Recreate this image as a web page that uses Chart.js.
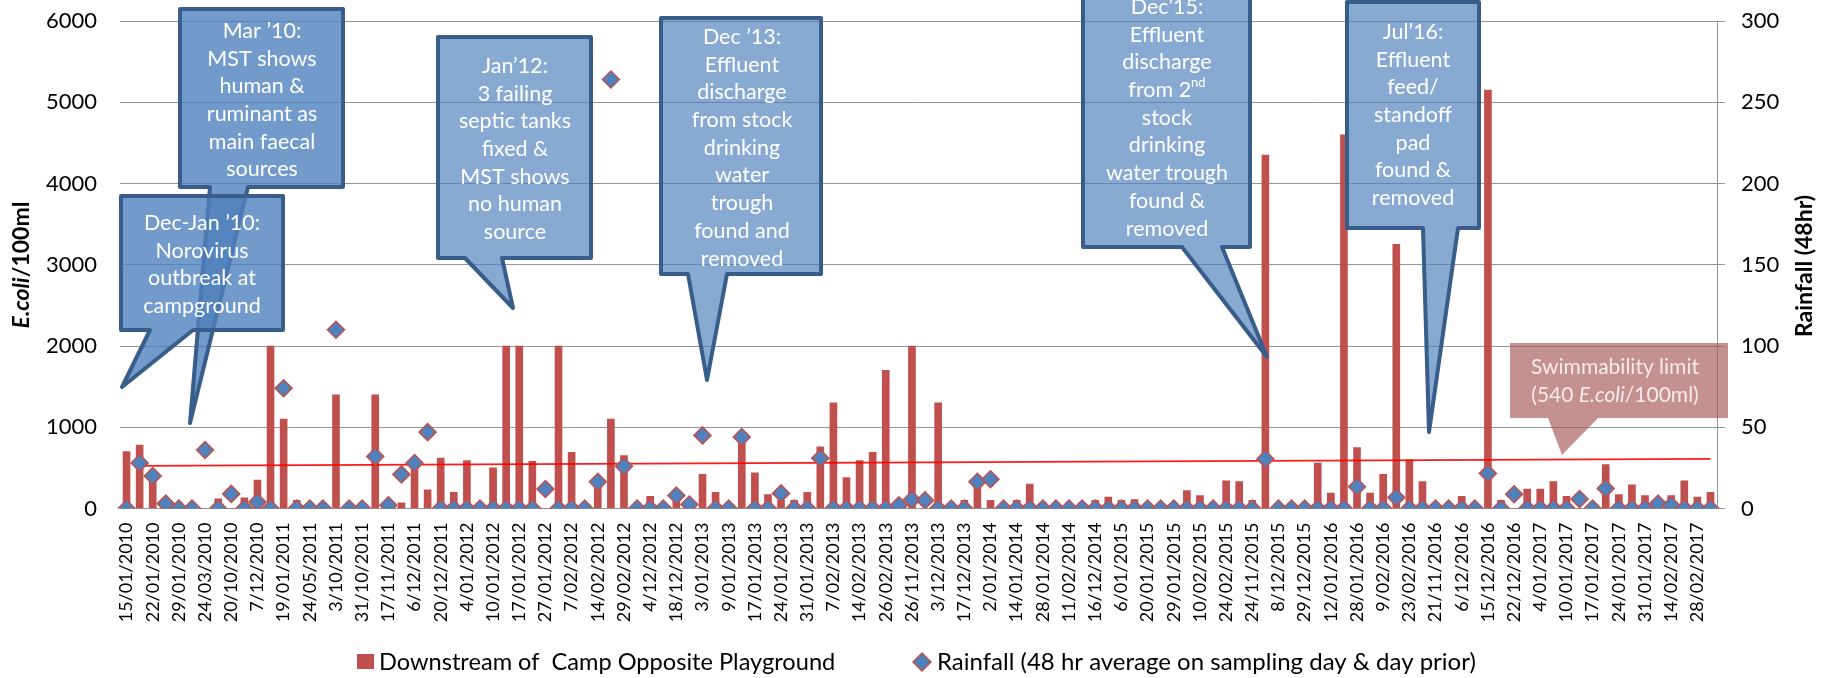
<!DOCTYPE html>
<html>
<head>
<meta charset="utf-8">
<script src="https://cdn.jsdelivr.net/npm/chart.js@4"></script>
<style>
  html, body { margin: 0; padding: 0; background: #fff; }
</style>
</head>
<body>
<canvas id="chart" width="1832" height="678"></canvas>
<script>
// every other sampling date is labelled on the axis
const tickLabels = [
  "15/01/2010", "22/01/2010", "29/01/2010", "24/03/2010", "20/10/2010", "7/12/2010",
  "19/01/2011", "24/05/2011", "3/10/2011", "31/10/2011", "17/11/2011", "6/12/2011",
  "20/12/2011", "4/01/2012", "10/01/2012", "17/01/2012", "27/01/2012", "7/02/2012",
  "14/02/2012", "29/02/2012", "4/12/2012", "18/12/2012", "3/01/2013", "9/01/2013",
  "17/01/2013", "24/01/2013", "31/01/2013", "7/02/2013", "14/02/2013", "26/02/2013",
  "26/11/2013", "3/12/2013", "17/12/2013", "2/01/2014", "14/01/2014", "28/01/2014",
  "11/02/2014", "16/12/2014", "6/01/2015", "20/01/2015", "29/01/2015", "10/02/2015",
  "24/02/2015", "24/11/2015", "8/12/2015", "29/12/2015", "12/01/2016", "28/01/2016",
  "9/02/2016", "23/02/2016", "21/11/2016", "6/12/2016", "15/12/2016", "22/12/2016",
  "4/01/2017", "10/01/2017", "17/01/2017", "24/01/2017", "31/01/2017", "14/02/2017",
  "28/02/2017"
];

// E.coli / 100ml, Downstream of Camp Opposite Playground
const ecoli = [
  700, 780, 400, 0, 0, 0, 0, 120, 0, 130,
  350, 2000, 1100, 100, 0, 0, 1400, 0, 0, 1400,
  0, 70, 500, 230, 620, 200, 590, 0, 500, 2000,
  2000, 580, 0, 2000, 690, 0, 280, 1100, 650, 0,
  150, 0, 100, 0, 420, 200, 0, 880, 440, 170,
  100, 100, 200, 760, 1300, 380, 590, 690, 1700, 0,
  2000, 0, 1300, 0, 100, 300, 100, 0, 100, 300,
  0, 0, 0, 0, 100, 140, 100, 110, 0, 0,
  0, 220, 160, 0, 340, 330, 100, 4350, 0, 0,
  0, 560, 190, 4600, 750, 190, 420, 3250, 600, 330,
  0, 0, 150, 0, 5150, 100, 0, 240, 240, 330,
  150, 0, 0, 540, 170, 290, 160, 100, 160, 340,
  140, 200
];

// Rainfall, 48 hr average (mm)
const rainfall = [
  0, 28, 20, 3, 0, 0, 36, 0, 9, 0,
  4, 0, 74, 0, 0, 0, 110, 0, 0, 32,
  2, 21, 28, 47, 0, 0, 0, 0, 0, 0,
  0, 0, 12, 0, 0, 0, 16.5, 264, 26, 0,
  0, 0, 8, 2.5, 45, 0, 0, 44, 0, 0,
  9.3, 0, 0, 31, 0, 0, 0, 0, 0, 2,
  5.5, 5, 0, 0, 0, 16.5, 18, 0, 0, 0,
  0, 0, 0, 0, 0, 0, 0, 0, 0, 0,
  0, 0, 0, 0, 0, 0, 0, 30.5, 0, 0,
  0, 0, 0, 0, 13.4, 0, 0, 6.8, 0, 0,
  0, 0, 0, 0, 21.6, 0, 8.8, 0, 0, 0,
  0, 5.8, 0, 12.3, 0, 0, 0, 3, 2, 0,
  0, 0
];

// hand drawn swimmability line, start / end value
const limitLine = [525, 610];

const categories = [];
tickLabels.forEach(l => categories.push(l, ""));

const limitData = categories.map(() => null);
limitData[1] = limitLine[0];
limitData[categories.length - 1] = limitLine[1];

const FONT = "Lato";
const GRID = "#959595";

const callouts = [
  { box: [180, 9, 343, 187], tail: [210, 248, 190, 423], fill: "rgba(79,129,189,0.8)", cx: 262, y0: 31,
    lines: ["Mar ’10:", "MST shows", "human &", "ruminant as", "main faecal", "sources"] },
  { box: [121, 196, 283, 330], tail: [150, 193, 122, 387], fill: "rgba(79,129,189,0.8)", cx: 202, y0: 223,
    lines: ["Dec-Jan ’10:", "Norovirus", "outbreak at", "campground"] },
  { box: [438, 37, 591, 258], tail: [465, 502, 513, 308], fill: "rgba(79,129,189,0.68)", cx: 515, y0: 66,
    lines: ["Jan’12:", "3 failing", "septic tanks", "fixed &", "MST shows", "no human", "source"] },
  { box: [661, 18, 821, 274], tail: [688, 727, 707, 380], fill: "rgba(79,129,189,0.68)", cx: 742, y0: 37,
    lines: ["Dec ’13:", "Effluent", "discharge", "from stock", "drinking", "water", "trough", "found and", "removed"] },
  { box: [1083, -8, 1250, 247], tail: [1182, 1222, 1267, 357], fill: "rgba(79,129,189,0.68)", cx: 1167, y0: 7,
    lines: ["Dec’15:", "Effluent", "discharge", [{ t: "from 2" }, { t: "nd", sup: true }], "stock", "drinking", "water trough", "found &", "removed"] },
  { box: [1347, 2, 1479, 228], tail: [1423, 1458, 1429, 432], fill: "rgba(79,129,189,0.68)", cx: 1413, y0: 32,
    lines: ["Jul’16:", "Effluent", "feed/", "standoff", "pad", "found &", "removed"] }
];

function drawRuns(ctx, runs, cx, cy, size, weight) {
  const fontOf = r => `${r.it ? "italic " : ""}${weight} ${r.sup ? Math.round(size * 0.62) : size}px ${FONT}`;
  let total = 0;
  runs.forEach(r => { ctx.font = fontOf(r); total += ctx.measureText(r.t).width; });
  let x = cx - total / 2;
  ctx.textAlign = "left";
  ctx.textBaseline = "middle";
  runs.forEach(r => {
    ctx.font = fontOf(r);
    ctx.fillText(r.t, x, r.sup ? cy - size * 0.32 : cy);
    x += ctx.measureText(r.t).width;
  });
}

// legend text is sized to the width it takes in the original
function fitText(ctx, text, x, y, width) {
  ctx.font = `20px ${FONT}`;
  const size = 20 * width / ctx.measureText(text).width;
  ctx.font = `${size.toFixed(1)}px ${FONT}`;
  ctx.fillText(text, x, y);
}

function calloutPath(ctx, box, tail) {
  const [x0, y0, x1, y1] = box;
  const [b0, b1, tx, ty] = tail;
  ctx.beginPath();
  ctx.moveTo(x0, y0);
  ctx.lineTo(x1, y0);
  ctx.lineTo(x1, y1);
  ctx.lineTo(b1, y1);
  ctx.lineTo(tx, ty);
  ctx.lineTo(b0, y1);
  ctx.lineTo(x0, y1);
  ctx.closePath();
}

const extras = {
  id: "extras",
  afterDraw(chart) {
    const ctx = chart.ctx;
    ctx.save();

    // callouts
    callouts.forEach(c => {
      calloutPath(ctx, c.box, c.tail);
      ctx.fillStyle = c.fill;
      ctx.fill();
      ctx.lineWidth = 4;
      ctx.lineJoin = "round";
      ctx.strokeStyle = "#385d8a";
      ctx.stroke();
      ctx.fillStyle = "#ffffff";
      c.lines.forEach((l, i) => {
        const runs = typeof l === "string" ? [{ t: l }] : l;
        drawRuns(ctx, runs, c.cx, c.y0 + i * 27.7, 21.5, "normal");
      });
    });

    // swimmability label
    calloutPath(ctx, [1510, 343, 1728, 418], [1548, 1598, 1562, 455]);
    ctx.fillStyle = "rgba(165,85,85,0.65)";
    ctx.fill();
    ctx.fillStyle = "#f7ecec";
    drawRuns(ctx, [{ t: "Swimmability limit" }], 1615, 367, 21, "normal");
    drawRuns(ctx, [{ t: "(540 " }, { t: "E.coli", it: true }, { t: "/100ml)" }], 1615, 395, 21, "normal");

    // axis titles
    ctx.fillStyle = "#000";
    ctx.save();
    ctx.translate(22, 265);
    ctx.rotate(-Math.PI / 2);
    drawRuns(ctx, [{ t: "E.coli", it: true }, { t: "/100ml" }], 0, 0, 23, "bold");
    ctx.restore();
    ctx.save();
    ctx.translate(1805, 266);
    ctx.rotate(-Math.PI / 2);
    drawRuns(ctx, [{ t: "Rainfall (48hr)" }], 0, 0, 23, "bold");
    ctx.restore();

    // legend
    ctx.fillStyle = "#c0504d";
    ctx.fillRect(357, 654, 17, 15);
    ctx.fillStyle = "#000";
    ctx.textAlign = "left";
    ctx.textBaseline = "middle";
    fitText(ctx, "Downstream of  Camp Opposite Playground", 379, 662, 456);
    ctx.beginPath();
    ctx.moveTo(922, 653);
    ctx.lineTo(931, 662);
    ctx.lineTo(922, 671);
    ctx.lineTo(913, 662);
    ctx.closePath();
    ctx.fillStyle = "#4f81bd";
    ctx.fill();
    ctx.strokeStyle = "#c0504d";
    ctx.lineWidth = 1.5;
    ctx.stroke();
    ctx.fillStyle = "#000";
    fitText(ctx, "Rainfall (48 hr average on sampling day & day prior)", 937, 662, 538);

    ctx.restore();
  }
};

// fixed axis boxes so the plot sits where it does in the original
const fitY = w => s => {
  s.width = w;
  s.paddingTop = 0;
  s.paddingBottom = 0;
};

new Chart(document.getElementById("chart"), {
  data: {
    labels: categories,
    datasets: [
      {
        type: "line",
        label: "Rainfall (48 hr average on sampling day & day prior)",
        data: rainfall,
        yAxisID: "y2",
        showLine: false,
        pointStyle: "rectRot",
        pointRadius: 8.5,
        pointBackgroundColor: "#4f81bd",
        pointBorderColor: "#c0504d",
        pointBorderWidth: 1.5,
        order: 0
      },
      {
        type: "line",
        label: "Swimmability limit",
        data: limitData,
        yAxisID: "y",
        spanGaps: true,
        borderColor: "rgba(255,0,0,0.9)",
        borderWidth: 1.8,
        pointRadius: 0,
        order: 1
      },
      {
        type: "bar",
        label: "Downstream of  Camp Opposite Playground",
        data: ecoli,
        yAxisID: "y",
        backgroundColor: "#c0504d",
        barThickness: 7,
        order: 2
      }
    ]
  },
  options: {
    responsive: false,
    animation: false,
    layout: { padding: { top: 21, bottom: 44.5, left: 0, right: 0 } },
    plugins: { legend: { display: false }, tooltip: { enabled: false } },
    scales: {
      x: {
        offset: true,
        grid: { display: false, drawTicks: false },
        border: { display: false },
        ticks: {
          autoSkip: false, maxRotation: 90, minRotation: 90, padding: 14,
          color: "#000", font: { family: FONT, size: 18 }
        },
        afterFit: s => { s.height = 125; }
      },
      y: {
        position: "left",
        min: 0, max: 6000,
        grid: { color: GRID, lineWidth: 1, drawTicks: false },
        border: { display: false },
        ticks: { stepSize: 1000, padding: 23, color: "#000", font: { family: FONT, size: 22 }, callback: v => String(v) },
        afterFit: fitY(120)
      },
      y2: {
        position: "right",
        min: 0, max: 300,
        grid: { drawOnChartArea: false, drawTicks: true, tickLength: 8, color: GRID },
        border: { display: true, color: GRID },
        ticks: { stepSize: 50, padding: 16, color: "#000", font: { family: FONT, size: 22 }, callback: v => String(v) },
        afterFit: fitY(115)
      }
    }
  },
  plugins: [extras]
});
</script>
</body>
</html>
